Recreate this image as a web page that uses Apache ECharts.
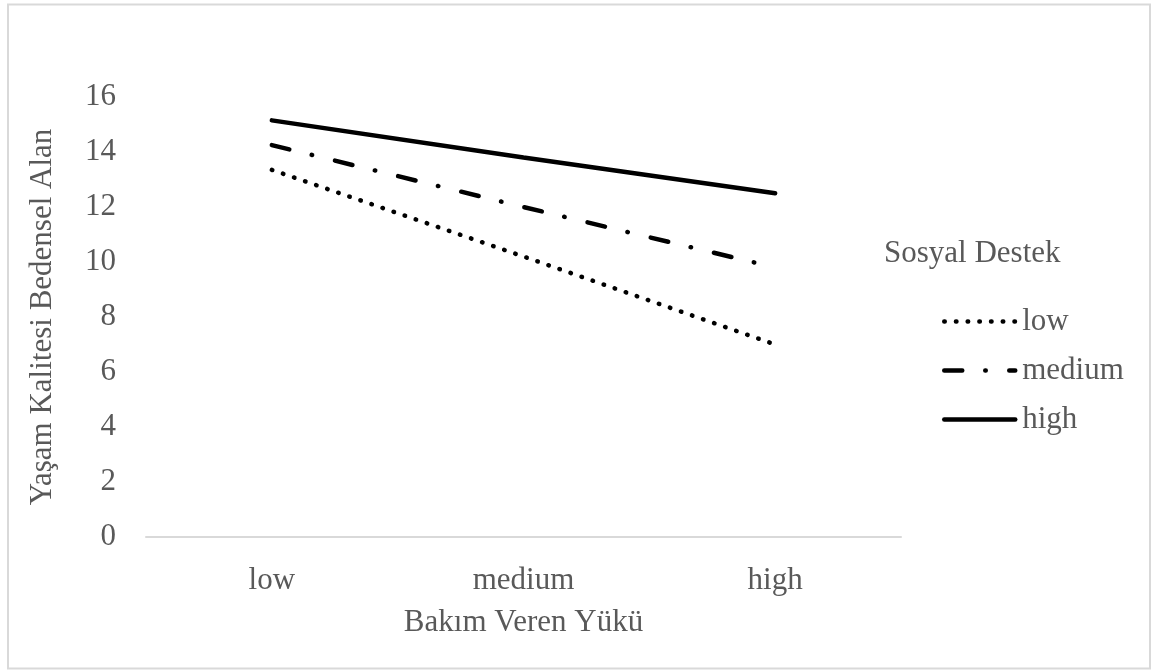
<!DOCTYPE html>
<html>
<head>
<meta charset="utf-8">
<script src="https://cdn.jsdelivr.net/npm/echarts@6/dist/echarts.min.js"></script>
<style>
html,body{margin:0;padding:0;background:#fff;}
#chart{width:1154px;height:671px;}
</style>
</head>
<body>
<div id="chart"></div>
<script>
var categories = ['low', 'medium', 'high'];
var lowVals = [13.35, 10.2, 7.0];
var mediumVals = [14.25, 12.0, 9.8];
var highVals = [15.15, 13.8, 12.5];
var yTicks = [0, 2, 4, 6, 8, 10, 12, 14, 16];

var font = 'Liberation Serif, Times New Roman, serif';
var grey = '#595959';
var fs = 31;

var chart = echarts.init(document.getElementById('chart'));

chart.setOption({
  animation: false,
  textStyle: {fontFamily: font},
  title: {
    text: 'Sosyal Destek',
    left: 884,
    top: 238,
    padding: 0,
    textStyle: {fontFamily: font, fontSize: fs, fontWeight: 'normal', color: grey}
  },
  graphic: [{
    type: 'rect',
    shape: {x: 8, y: 4.5, width: 1142, height: 664},
    style: {fill: null, stroke: '#d9d9d9', lineWidth: 2},
    silent: true
  }],
  legend: {
    orient: 'vertical',
    left: 942,
    top: 306,
    padding: 0,
    itemWidth: 71,
    itemHeight: 14,
    itemGap: 18,
    itemStyle: {opacity: 0},
    lineStyle: {width: 4.5, cap: 'round'},
    textStyle: {fontFamily: font, fontSize: fs, color: grey, padding: [0, 0, 0, 2]},
    data: ['low', 'medium', 'high']
  },
  grid: {left: 146, right: 253, top: 97, bottom: 134, containLabel: false},
  xAxis: {
    type: 'category',
    data: categories,
    boundaryGap: true,
    name: 'Bakım Veren Yükü',
    nameLocation: 'middle',
    nameGap: 70,
    nameTextStyle: {fontFamily: font, fontSize: fs, color: grey},
    axisLine: {lineStyle: {color: '#d9d9d9', width: 2}},
    axisTick: {show: false},
    axisLabel: {fontFamily: font, fontSize: fs, color: grey, margin: 28}
  },
  yAxis: {
    type: 'value',
    min: yTicks[0],
    max: yTicks[yTicks.length - 1],
    interval: 2,
    name: 'Yaşam Kalitesi Bedensel Alan',
    nameLocation: 'middle',
    nameGap: 88,
    nameTextStyle: {fontFamily: font, fontSize: fs, color: grey},
    axisLine: {show: false},
    axisTick: {show: false},
    splitLine: {show: false},
    axisLabel: {fontFamily: font, fontSize: fs, color: grey, margin: 30}
  },
  series: [
    {
      name: 'low', type: 'line', data: lowVals, symbol: 'none',
      lineStyle: {color: '#000', width: 4.5, type: [0.5, 11.2], cap: 'round'},
      itemStyle: {color: '#000'}
    },
    {
      name: 'medium', type: 'line', data: mediumVals, symbol: 'none',
      lineStyle: {color: '#000', width: 4.5, type: [18, 23, 0.5, 23.5], cap: 'round'},
      itemStyle: {color: '#000'}
    },
    {
      name: 'high', type: 'line', data: highVals, symbol: 'none',
      lineStyle: {color: '#000', width: 4.5, cap: 'round'},
      itemStyle: {color: '#000'}
    }
  ]
});
</script>
</body>
</html>
